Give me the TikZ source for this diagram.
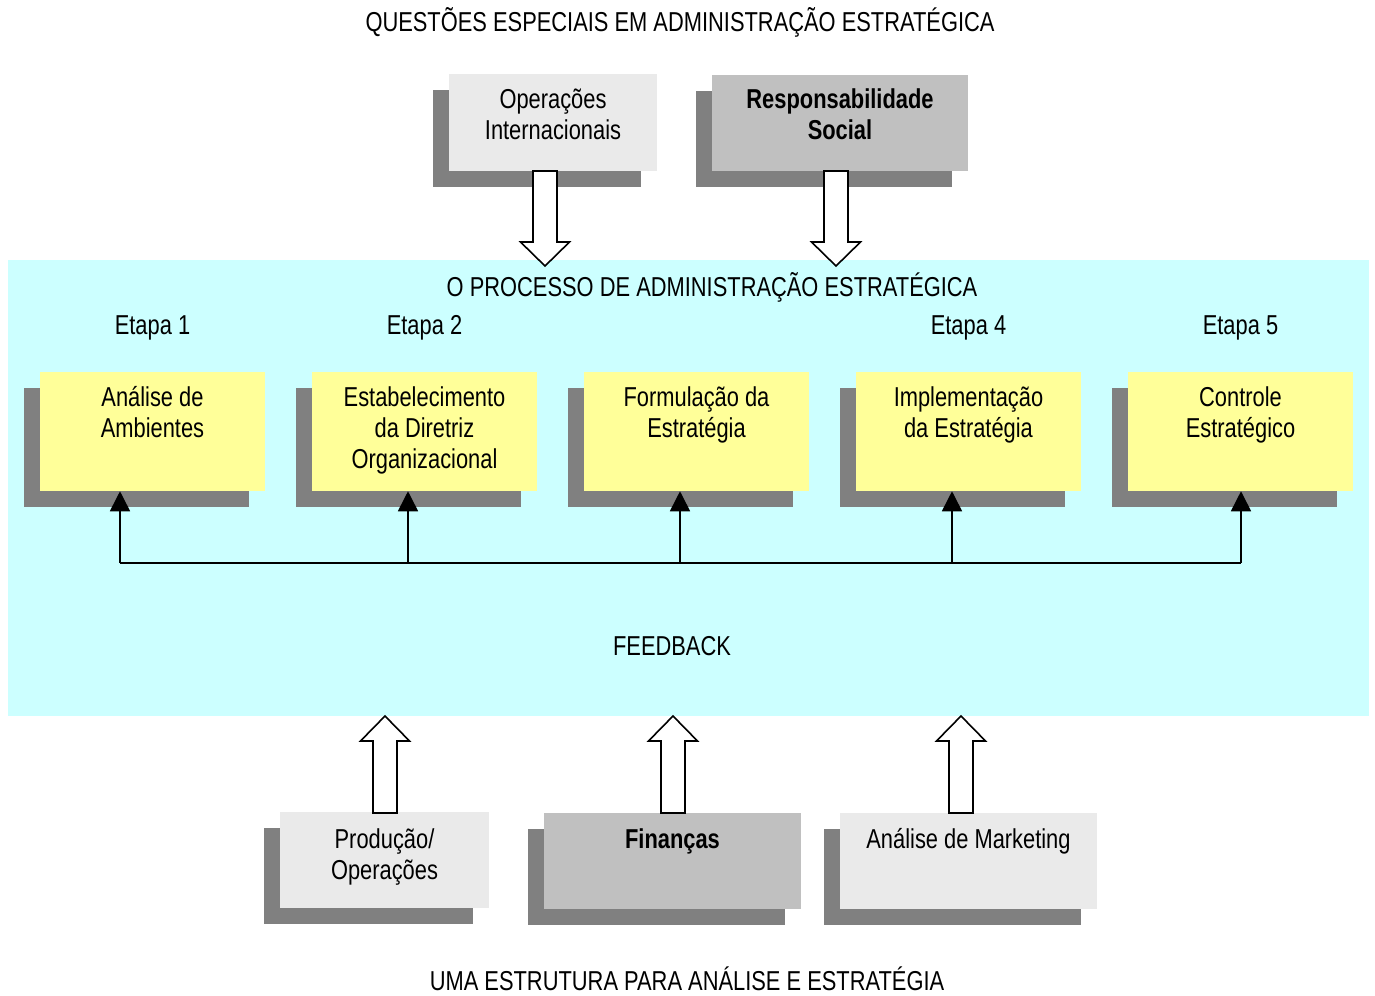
\documentclass[tikz,border=0pt]{standalone}
\usepackage{fontspec}
\setmainfont{Liberation Sans}[FakeStretch=0.8]
\usetikzlibrary{arrows.meta,calc,shadows}

\definecolor{panelcyan}{HTML}{CCFFFF}
\definecolor{stepyellow}{HTML}{FFFF99}
\definecolor{shadowgrey}{HTML}{808080}
\definecolor{lightgrey}{HTML}{EAEAEA}
\definecolor{midgrey}{HTML}{C0C0C0}

\tikzset{
  txt/.style={font={\fontsize{20.5pt}{23pt}\selectfont}, align=center, inner sep=0pt},
  boldtxt/.style={txt, font={\fontsize{20.5pt}{23pt}\selectfont\bfseries}},
  card/.style={rectangle, draw=none, inner sep=0pt,
    general shadow={shadow xshift=-12pt, shadow yshift=-12pt, fill=shadowgrey}},
  stepcard/.style={card, fill=stepyellow, minimum width=168.75pt, minimum height=89.25pt},
  blockarrow/.style={draw=black, fill=white, line width=1.2pt, line join=miter},
  feedline/.style={draw=black, line width=1.2pt},
  feedtip/.style={-{Triangle[width=15pt,length=15pt]}, feedline},
  arrowdown/.pic={\path[blockarrow] (-12,0) -- (-12,71) -- (-24.5,71) -- (0,95)
     -- (24.5,71) -- (12,71) -- (12,0) -- cycle;},
  arrowup/.pic={\path[blockarrow] (-12,0) -- (-12,-72) -- (-24.5,-72) -- (0,-97)
     -- (24.5,-72) -- (12,-72) -- (12,0) -- cycle;}
}

\begin{document}
\begin{tikzpicture}[x=0.75pt,y=-0.75pt]
\useasboundingbox (0,0) rectangle (1375,996);

% headings (base anchor = baseline of the last line)
\node[txt, anchor=base] (title) at (680,31) {QUESTÕES ESPECIAIS EM ADMINISTRAÇÃO ESTRATÉGICA};
\node[txt, anchor=base] (subtitle) at (687,990) {UMA ESTRUTURA PARA ANÁLISE E ESTRATÉGIA};

% special questions (top)
\node[card, fill=lightgrey, minimum width=156pt, minimum height=72.75pt] (oi) at (553,122.5) {};
\node[txt, anchor=base] (oit) at (553,139) {Operações\\Internacionais};
\node[card, fill=midgrey, minimum width=192pt, minimum height=72pt] (rs) at (840,123) {};
\node[boldtxt, anchor=base] (rst) at (840,139) {Responsabilidade\\Social};

% process panel
\node[rectangle, fill=panelcyan, draw=none, minimum width=1020.75pt, minimum height=342pt,
      inner sep=0pt] (panel) at (688.5,488) {};
\node[txt, anchor=base] (ptitle) at (712,296) {O PROCESSO DE ADMINISTRAÇÃO ESTRATÉGICA};

% arrows into the panel
\coordinate (oiA) at (545,171);
\coordinate (rsA) at (836,171);
\pic at (oiA) {arrowdown};
\pic at (rsA) {arrowdown};

% stage labels
\node[txt, anchor=base] (e1) at (152.5,334) {Etapa 1};
\node[txt, anchor=base] (e2) at (424.5,334) {Etapa 2};
\node[txt, anchor=base] (e4) at (968.5,334) {Etapa 4};
\node[txt, anchor=base] (e5) at (1240.5,334) {Etapa 5};

% stage boxes
\node[stepcard] (s1) at (152.5,431.5) {};
\node[stepcard] (s2) at (424.5,431.5) {};
\node[stepcard] (s3) at (696.5,431.5) {};
\node[stepcard] (s4) at (968.5,431.5) {};
\node[stepcard] (s5) at (1240.5,431.5) {};
\node[txt, anchor=base] (s1t) at (152.5,437) {Análise de\\Ambientes};
\node[txt, anchor=base] (s2t) at (424.5,468) {Estabelecimento\\da Diretriz\\Organizacional};
\node[txt, anchor=base] (s3t) at (696.5,437) {Formulação da\\Estratégia};
\node[txt, anchor=base] (s4t) at (968.5,437) {Implementação\\da Estratégia};
\node[txt, anchor=base] (s5t) at (1240.5,437) {Controle\\Estratégico};

% feedback loop
\coordinate (f1) at (120,563);
\coordinate (f2) at (408,563);
\coordinate (f3) at (680,563);
\coordinate (f4) at (952,563);
\coordinate (f5) at (1241,563);
\draw[feedline] (f1) -- (f5);
\draw[feedtip] (f1) -- (f1 |- s1.south);
\draw[feedtip] (f2) -- (f2 |- s2.south);
\draw[feedtip] (f3) -- (f3 |- s3.south);
\draw[feedtip] (f4) -- (f4 |- s4.south);
\draw[feedtip] (f5) -- (f5 |- s5.south);
\node[txt, anchor=base] (fb) at (672,655) {FEEDBACK};

% functional areas (bottom)
\node[card, fill=lightgrey, minimum width=156.75pt, minimum height=72pt] (po) at (384.5,860) {};
\node[txt, anchor=base] (pot) at (384.5,879) {Produção/\\Operações};
\node[card, fill=midgrey, minimum width=192.75pt, minimum height=72pt] (fi) at (672.5,861) {};
\node[boldtxt, anchor=base] (fit) at (672.5,848) {Finanças};
\node[card, fill=lightgrey, minimum width=192.75pt, minimum height=72pt] (am) at (968.5,861) {};
\node[txt, anchor=base] (amt) at (968.5,848) {Análise de Marketing};

% arrows from the functional areas
\coordinate (poA) at (385,813);
\coordinate (fiA) at (673,813);
\coordinate (amA) at (961,813);
\pic at (poA) {arrowup};
\pic at (fiA) {arrowup};
\pic at (amA) {arrowup};
\end{tikzpicture}
\end{document}
